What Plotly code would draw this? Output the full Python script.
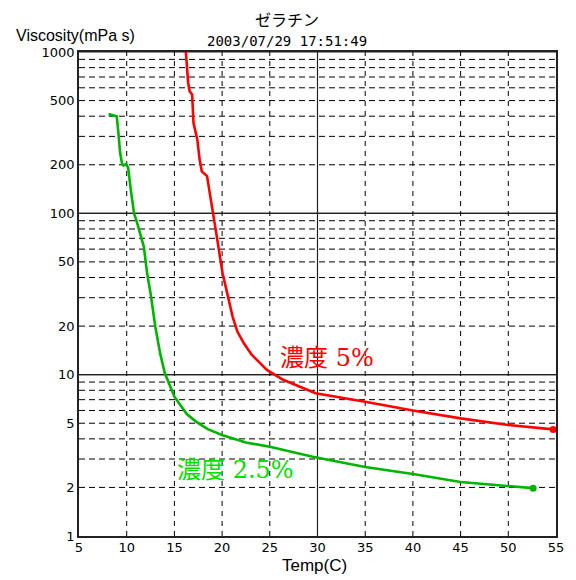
import math
import plotly.graph_objects as go

# Gelatin viscosity vs temperature
red_temp = [16.2, 16.44, 16.6, 16.86, 17.0, 17.4, 17.64, 17.87, 18.42, 18.66, 19.0, 19.5,
            20.05, 20.6, 21.1, 21.6, 22.3, 23.1, 24.7, 26.4, 29.8, 35.0, 40.0, 45.0, 50.0, 54.7]
red_visc = [1000, 645, 570, 546, 364, 287, 216, 182, 170, 140, 100, 68.5,
            42.5, 30.6, 22.9, 18.5, 15.6, 13.3, 10.7, 9.3, 7.67, 6.8, 6.0, 5.36, 4.87, 4.58]

green_temp = [8.1, 8.95, 9.1, 9.3, 9.5, 9.65, 9.95, 10.15, 10.43, 10.77, 11.1, 11.44, 11.8,
              12.14, 12.5, 13.0, 13.5, 14.0, 14.55, 15.0, 15.6, 16.3, 17.3, 18.5, 20.05,
              22.5, 25.0, 27.5, 29.5, 35.0, 40.0, 45.0, 50.0, 52.6]
green_visc = [412, 400, 330, 240, 205, 198, 202, 192, 140, 100, 87, 75, 62,
              42.5, 32, 19.8, 13.6, 10.2, 8.6, 7.3, 6.5, 5.7, 5.1, 4.6, 4.21,
              3.8, 3.57, 3.3, 3.1, 2.68, 2.42, 2.16, 2.03, 1.98]

y_tickvals = [1, 2, 5, 10, 20, 50, 100, 200, 500, 1000]
x_tickvals = [5, 10, 15, 20, 25, 30, 35, 40, 45, 50, 55]
x_grid = [10, 15, 20, 25, 30, 35, 40, 45, 50]
x_solid = [30]

RED = "#ff0000"
GREEN = "#00b400"
TICKFONT = dict(family="DejaVu Sans", size=13, color="#000")

fig = go.Figure()

# gridlines: dashed at 2..9 of each decade, solid at decades
shapes = []
for dec in [1, 10, 100]:
    for m in range(1, 11):
        v = dec * m
        if v == 1:
            continue
        solid = m in (1, 10)
        shapes.append(dict(type="line", xref="paper", yref="y", x0=0, x1=1, y0=v, y1=v,
                           line=dict(color="#222" if solid else "#000", width=1.2 if solid else 1,
                                     dash="solid" if solid else "6px,4px"), layer="below"))
for xv in x_grid:
    solid = xv in x_solid
    shapes.append(dict(type="line", xref="x", yref="paper", x0=xv, x1=xv, y0=0, y1=1,
                       line=dict(color="#222" if solid else "#000", width=1.2 if solid else 1,
                                 dash="solid" if solid else "5px,5px"), layer="below"))

fig.add_trace(go.Scatter(x=red_temp, y=red_visc, mode="lines",
                         line=dict(color=RED, width=2.6), showlegend=False))
fig.add_trace(go.Scatter(x=green_temp, y=green_visc, mode="lines",
                         line=dict(color=GREEN, width=2.6), showlegend=False))
fig.add_trace(go.Scatter(x=[red_temp[-1]], y=[red_visc[-1]], mode="markers",
                         marker=dict(color=RED, size=7), showlegend=False, cliponaxis=False))
fig.add_trace(go.Scatter(x=[green_temp[-1]], y=[green_visc[-1]], mode="markers",
                         marker=dict(color=GREEN, size=7), showlegend=False))

lab_font = "DejaVu Serif, Noto Sans CJK JP"
annotations = [
    dict(x=25.9, y=math.log10(12.6), xref="x", yref="y", text="濃度 5%", showarrow=False,
         xanchor="left", yanchor="middle", font=dict(family=lab_font, size=24, color=RED)),
    dict(x=15.1, y=math.log10(2.57), xref="x", yref="y", text="濃度 2.5%", showarrow=False,
         xanchor="left", yanchor="middle", font=dict(family=lab_font, size=24, color="#00e000")),
    dict(x=0.436, y=1, xref="paper", yref="paper", yshift=33, text="ゼラチン", showarrow=False,
         xanchor="center", yanchor="middle", font=dict(family="Noto Sans CJK JP", size=16, color="#000")),
    dict(x=0.436, y=1, xref="paper", yref="paper", yshift=11, text="2003/07/29 17:51:49", showarrow=False,
         xanchor="center", yanchor="middle", font=dict(family="DejaVu Sans Mono", size=14, color="#000")),
    dict(x=-0.136, y=1, xref="paper", yref="paper", yshift=17, text="Viscosity(mPa s)", showarrow=False,
         xanchor="left", yanchor="middle", font=dict(family="Liberation Sans", size=16, color="#000")),
    dict(x=0.494, y=0, xref="paper", yref="paper", yshift=-29, text="Temp(C)", showarrow=False,
         xanchor="center", yanchor="middle", font=dict(family="Liberation Sans", size=17, color="#000")),
]

# page has an 8px body margin, so the figure is sized to fit inside the window
fig.update_layout(
    width=568, height=572,
    margin=dict(l=71, r=13, t=44, b=44),
    paper_bgcolor="white", plot_bgcolor="white",
    shapes=shapes, annotations=annotations,
)
fig.update_xaxes(range=[5, 55], tickvals=x_tickvals, showgrid=False, zeroline=False,
                 showline=True, mirror=True, linecolor="#222", linewidth=1.5,
                 ticks="", tickfont=TICKFONT, ticklabelstandoff=-1)
fig.update_yaxes(type="log", range=[0, 3], tickvals=y_tickvals, showgrid=False, zeroline=False,
                 showline=True, mirror=True, linecolor="#222", linewidth=1.5,
                 ticks="", tickfont=TICKFONT)

fig.write_html("out.html")
